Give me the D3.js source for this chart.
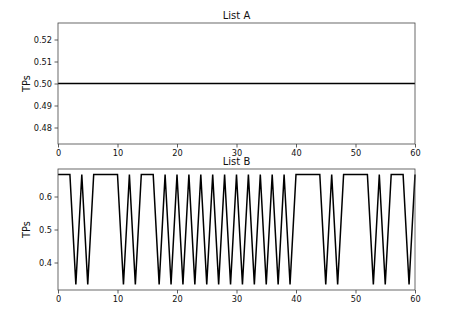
<!DOCTYPE html>
<html><head><meta charset="utf-8">
<script src="https://cdn.jsdelivr.net/npm/d3@7"></script>
<style>body{margin:0;background:#fff}svg{display:block}text{font-family:"DejaVu Sans",sans-serif}</style>
</head><body>
<script>
const H = 2/3, L = 1/3;
const listA = Array.from({length:61}, () => 0.5);
const listBPattern = "HHHLHLHHHHHLHLHHHLHLHLHLHLHLHLHLHLHLHLHLHHHHHLHLHHHHHLHLHHHLH";
const listB = listBPattern.split("").map(c => c === "H" ? H : L);
const xTicks = [0,10,20,30,40,50,60];
const yTicksA = [0.48,0.49,0.50,0.51,0.52];
const yTicksB = [0.4,0.5,0.6];

const W = 462, Ht = 315;
const svg = d3.select("body").append("svg").attr("width", W).attr("height", Ht);

function panel(data, top, bottom, ydom, yticks, yfmt, title) {
  const left = 58, right = 415;
  const x = d3.scaleLinear().domain([0,60]).range([left,right]);
  const y = d3.scaleLinear().domain(ydom).range([bottom,top]);
  const g = svg.append("g");
  const line = d3.line().x((d,i)=>x(i)).y(d=>y(d));
  g.append("path").datum(data).attr("d", line).attr("fill","none").attr("stroke","#000").attr("stroke-width",1.5).attr("stroke-linejoin","miter");
  const xa = g.append("g").attr("transform",`translate(0,${bottom})`).call(d3.axisBottom(x).tickValues(xTicks).tickSize(3.5).tickPadding(2.5).tickFormat(d3.format("d")));
  const ya = g.append("g").attr("transform",`translate(${left},0)`).call(d3.axisLeft(y).tickValues(yticks).tickSize(3.5).tickPadding(2.5).tickFormat(d3.format(yfmt)));
  [xa,ya].forEach(a=>{a.select(".domain").remove(); a.selectAll("line").attr("stroke","#333").attr("stroke-width",0.8); a.selectAll("text").attr("font-size",8.2).attr("fill","#111").attr("font-family","DejaVu Sans");});
  g.append("rect").attr("x",left).attr("y",top).attr("width",right-left).attr("height",bottom-top).attr("fill","none").attr("stroke","#444").attr("stroke-width",0.8);
  g.append("text").attr("x",(left+right)/2).attr("y",top-4).attr("text-anchor","middle").attr("font-size",10).attr("fill","#111").text(title);
  g.append("text").attr("transform",`translate(30,${(top+bottom)/2}) rotate(-90)`).attr("text-anchor","middle").attr("font-size",9.8).attr("fill","#111").text("TPs");
}
panel(listA, 23, 144, [0.4725,0.5275], yTicksA, ".2f", "List A");
panel(listB, 169, 290, [L-1/60, H+1/60], yTicksB, ".1f", "List B");
</script>
</body></html>
